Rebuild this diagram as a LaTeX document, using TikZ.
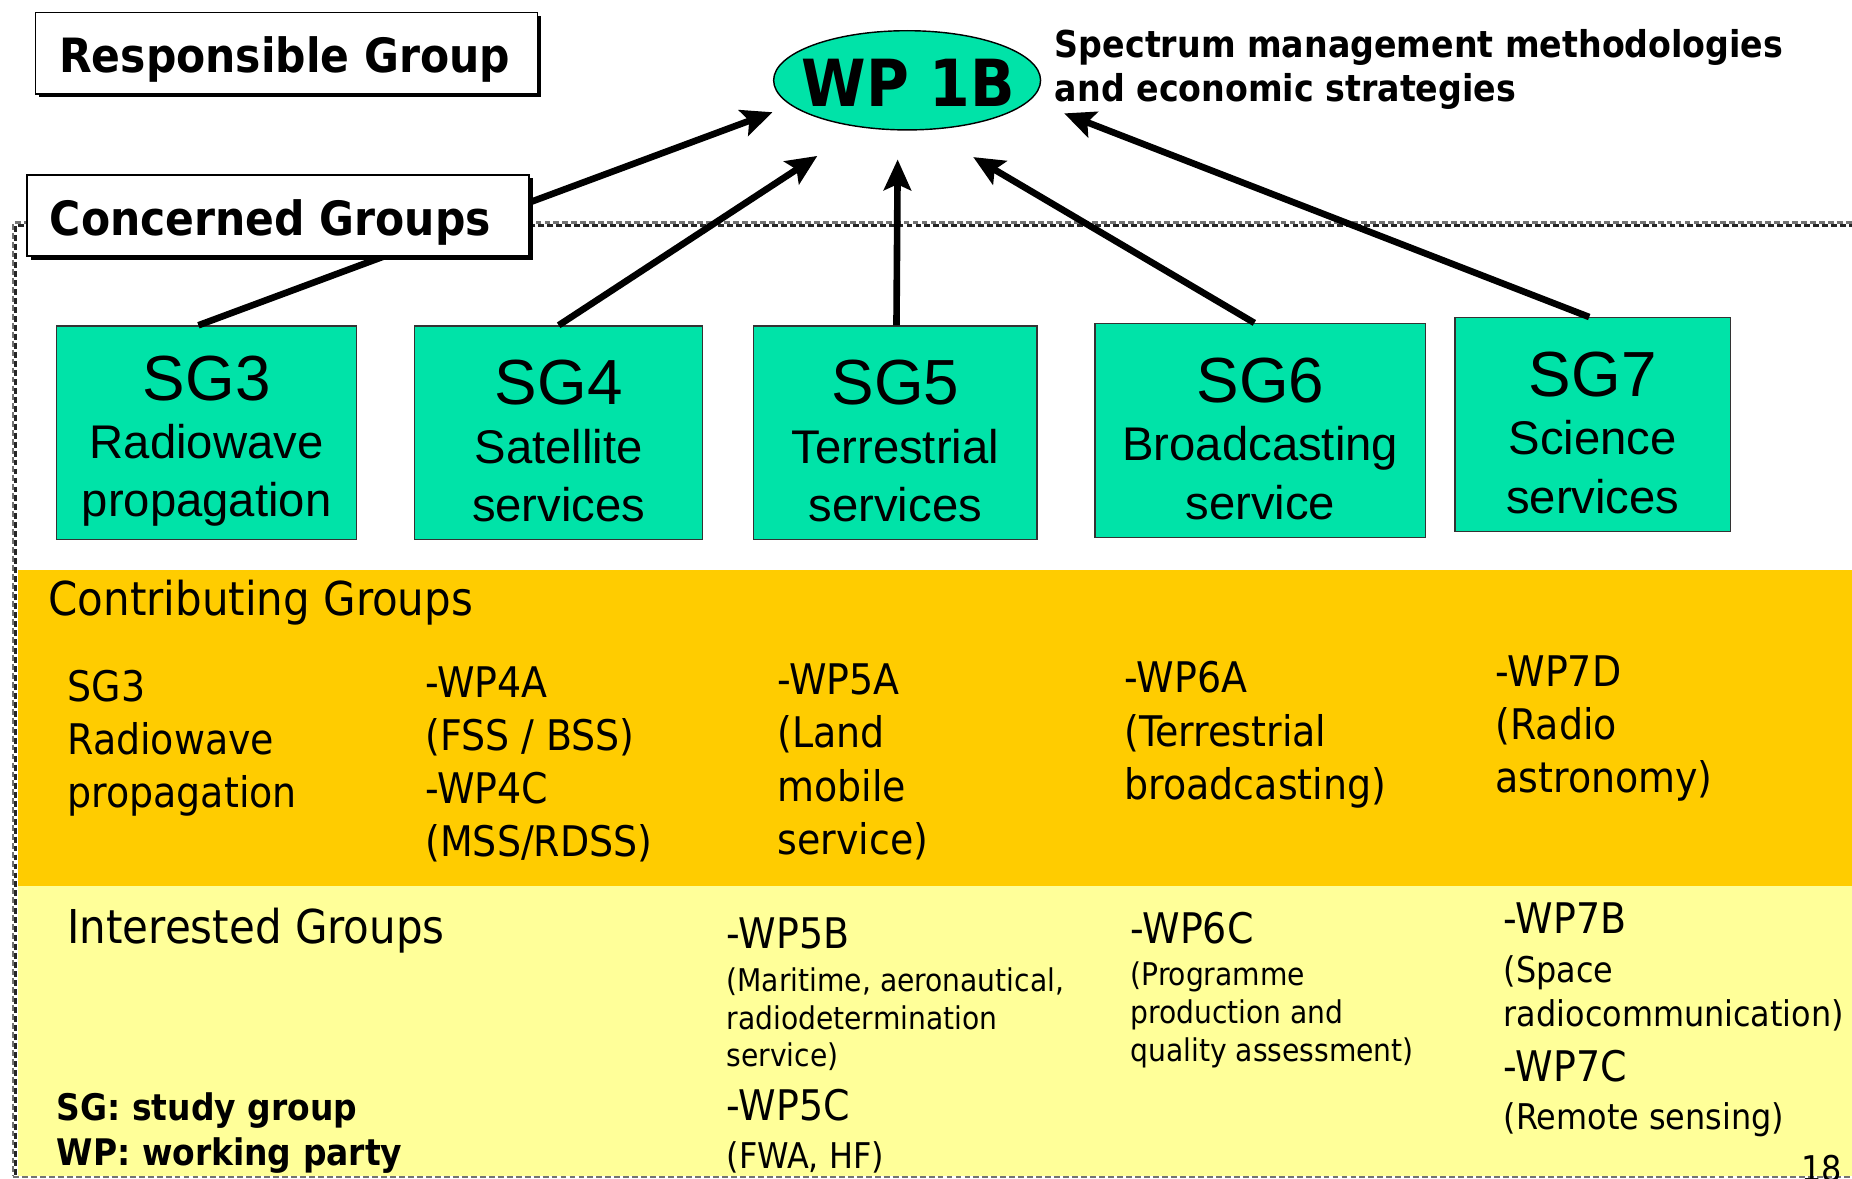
\documentclass[tikz,border=0pt]{standalone}
\usepackage{fontspec}
\setmainfont{DejaVu Sans Condensed}
\newfontfamily\arialf{Liberation Sans}
\usetikzlibrary{arrows.meta,shapes.geometric,shadows}
\definecolor{tealfill}{HTML}{00E3A8}
\definecolor{orangeband}{HTML}{FFCC00}
\definecolor{yellowband}{HTML}{FFFF99}
\tikzset{
  sgbox/.style={draw=black!80, line width=1.2pt, fill=tealfill, inner sep=0pt},
  sgtext/.style={inner sep=0pt, align=center, font=\arialf\fontsize{40}{49.5}\selectfont},
  hdrbox/.style={draw=black, line width=1.5pt, fill=white, inner sep=0pt,
    minimum width=425pt, minimum height=69pt,
    drop shadow={shadow xshift=3pt,shadow yshift=-3pt,fill=black,opacity=1}},
  hdrtext/.style={anchor=base, inner sep=0pt, font=\fontsize{40}{44}\selectfont\bfseries},
  arr/.style={line width=5.6pt, -{Stealth[length=26pt,width=23pt,inset=5pt]}},
  grp/.style={anchor=north west, inner sep=0pt, align=left, font=\fontsize{35.7}{45}\selectfont},
  grpbig/.style={anchor=north west, inner sep=0pt, align=left, font=\fontsize{39.5}{45}\selectfont},
  desc/.style={anchor=north west, inner sep=0pt, align=left, font=\fontsize{26.5}{32}\selectfont},
  descm/.style={anchor=north west, inner sep=0pt, align=left, font=\fontsize{30}{37}\selectfont},
  dashA/.style={black!55, line width=2.2pt, dash pattern=on 5pt off 2.6pt},
  dashB/.style={black!85, line width=2.2pt, dash pattern=on 5pt off 2.6pt, dash phase=2.5pt},
}
\begin{document}
\begin{tikzpicture}[x=1pt,y=-1pt]
\useasboundingbox (0,0) rectangle (1568,998);
\clip (0,0) rectangle (1568,998);
% bands
\fill[yellowband] (15,750) rectangle (1568,996);
\fill[orangeband] (15,483) rectangle (1568,750);
% dashed frame (double row of staggered dashes)
\draw[dashA] (1568,188.6) -- (11,188.6) -- (11,996);
\draw[dashB] (1568,190.8) -- (13.2,190.8) -- (13.2,996);
\draw[dashA] (11,996.5) -- (1568,996.5);
% SG boxes
\node[sgbox, minimum width=254pt, minimum height=181pt] (sg3) at (175,366.5) {};
\node[sgbox, minimum width=244pt, minimum height=181pt] (sg4) at (473,366.5) {};
\node[sgbox, minimum width=240pt, minimum height=181pt] (sg5) at (758,366.5) {};
\node[sgbox, minimum width=280pt, minimum height=181pt] (sg6) at (1067,364.5) {};
\node[sgbox, minimum width=233pt, minimum height=181pt] (sg7) at (1348.5,359.5) {};
\node[sgtext] (sg3t) at ([yshift=-7pt]sg3.center) {{\fontsize{54}{56}\selectfont SG3}\\Radiowave\\propagation};
\node[sgtext] (sg4t) at ([yshift=-7pt]sg4.center) {{\fontsize{54}{56}\selectfont SG4}\\Satellite\\services};
\node[sgtext] (sg5t) at ([yshift=-7pt]sg5.center) {{\fontsize{54}{56}\selectfont SG5}\\Terrestrial\\services};
\node[sgtext] (sg6t) at ([yshift=-7pt]sg6.center) {{\fontsize{54}{56}\selectfont SG6}\\Broadcasting\\service};
\node[sgtext] (sg7t) at ([yshift=-7pt]sg7.center) {{\fontsize{54}{56}\selectfont SG7}\\Science\\services};
% WP 1B
\node[ellipse, draw=black, line width=1.2pt, fill=tealfill, minimum width=226pt, minimum height=84pt, inner sep=0pt] (wp) at (768,68) {};
\node[anchor=base, inner sep=0pt, font=\fontsize{55}{58}\selectfont\bfseries] (wpt) at (769,90) {WP 1B};
\node[anchor=north west, inner sep=0pt, align=left, font=\fontsize{31.3}{37}\selectfont\bfseries] (wpdesc) at (893,25)
  {Spectrum management methodologies\\and economic strategies};
% arrow tips
\coordinate (t3) at (654,95);
\coordinate (t4) at (692,132);
\coordinate (t5) at (760,135);
\coordinate (t6) at (824,133);
\coordinate (t7) at (901,96);
\draw[arr] ([xshift=-7pt]sg3.north) -- (t3);
\draw[arr] (sg4.north) -- (t4);
\draw[arr] ([xshift=1pt]sg5.north) -- (t5);
\draw[arr] ([xshift=-5pt]sg6.north) -- (t6);
\draw[arr] ([xshift=-3pt]sg7.north) -- (t7);
% header boxes
\node[hdrbox] (resp) at (242.5,45) {};
\node[hdrtext] (respt) at (241,61.5) {Responsible Group};
\node[hdrbox] (conc) at (235.5,182.5) {};
\node[hdrtext] (conct) at (229,199.5) {Concerned Groups};
% contributing groups
\node[grpbig] (contrib) at (41,491) {Contributing Groups};
\node[grp] (c1) at (57,567) {SG3\\Radiowave\\propagation};
\node[grp] (c2) at (360,564) {-WP4A\\(FSS / BSS)\\-WP4C\\(MSS/RDSS)};
\node[grp] (c3) at (658,562) {-WP5A\\(Land\\mobile\\service)};
\node[grp] (c4) at (952,560) {-WP6A\\(Terrestrial\\broadcasting)};
\node[grp] (c5) at (1266,555) {-WP7D\\(Radio\\astronomy)};
% interested groups
\node[grpbig] (inter) at (57,769) {Interested Groups};
\node[grp] (i5b) at (615,777) {-WP5B};
\node[desc] (i5bd) at (615,819) {(Maritime, aeronautical,\\radiodetermination\\service)};
\node[grp] (i5c) at (615,922) {-WP5C};
\node[descm] (i5cd) at (615,966) {(FWA, HF)};
\node[grp] (i6c) at (957,772) {-WP6C};
\node[desc] (i6cd) at (957,814) {(Programme\\production and\\quality assessment)};
\node[grp] (i7b) at (1273,764) {-WP7B};
\node[descm] (i7bd) at (1273,809) {(Space\\radiocommunication)};
\node[grp] (i7c) at (1273,889) {-WP7C};
\node[descm] (i7cd) at (1273,933) {(Remote sensing)};
% legend
\node[anchor=north west, inner sep=0pt, align=left, font=\fontsize{31}{38}\selectfont\bfseries] (legend) at (48,925)
  {SG: study group\\WP: working party};
\node[anchor=north west, inner sep=0pt, font=\fontsize{30}{34}\selectfont] (pnum) at (1525,978) {18};
\end{tikzpicture}
\end{document}
